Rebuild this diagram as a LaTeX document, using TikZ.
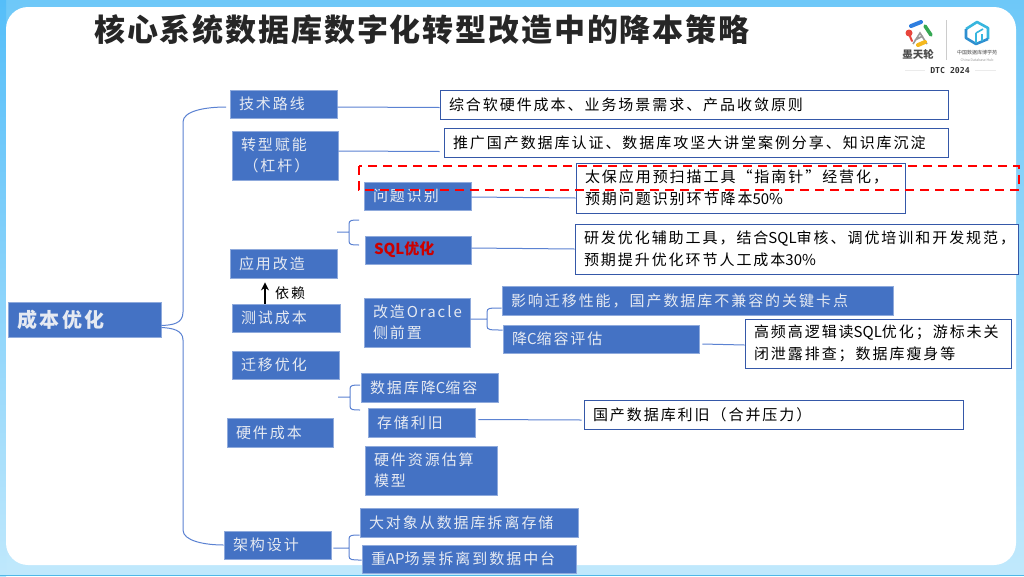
\documentclass[tikz,border=0pt]{standalone}
\usepackage{fontspec}
\setmainfont[LetterSpace=13]{Noto Sans CJK SC}
\newfontfamily\tightfont{Noto Sans CJK SC}
\newfontfamily\titlefont[LetterSpace=6]{Noto Sans CJK SC}
\newfontfamily\logofont{DejaVu Sans Mono}
\usepackage{xcolor}
\usepackage{tikz}
\usetikzlibrary{arrows.meta,calc}
\definecolor{boxblue}{HTML}{4472C4}
\definecolor{boxedge}{HTML}{8FAADC}
\definecolor{linkblue}{HTML}{5B82D2}
\definecolor{noteedge}{HTML}{3558A8}
\definecolor{paletext}{HTML}{E6EAF2}
\definecolor{frametop}{HTML}{6EC8F8}
\definecolor{framelow}{HTML}{BFE8FC}
\definecolor{frameside}{HTML}{55BEF9}
\definecolor{frameline}{HTML}{4FB8E8}
\definecolor{titleink}{HTML}{262626}
\definecolor{logoblue}{HTML}{2F7FE0}
\definecolor{logored}{HTML}{E8453C}
\definecolor{logogreen}{HTML}{34A853}
\definecolor{logoyellow}{HTML}{F5B81E}
\definecolor{cubecyan}{HTML}{38B6DE}
\definecolor{cubeblue}{HTML}{2E8FD0}

\begin{document}
\begin{tikzpicture}[
  x=1pt, y=-1pt,
  >={Stealth[length=8pt,width=8pt]},
  every node/.style={font=\fontsize{15}{21.5}\selectfont},
  wd/.style={text width=#1pt-18pt},
  bluebox/.style={fill=boxblue, draw=boxedge, line width=0.8pt, text=paletext, inner xsep=9pt, inner ysep=0pt, align=left, minimum height=28pt, wd=107},
  notebox/.style={fill=white, draw=noteedge, line width=1pt, text=black, inner xsep=9pt, inner ysep=0pt, align=left, minimum height=29pt},
  link/.style={draw=linkblue, line width=1pt},
]
  % frame
  \path[use as bounding box] (0,0) rectangle (1024,576);
  \shade[top color=frametop, bottom color=framelow] (0,0) rectangle (1024,566);
  \fill[framelow] (0,566) rectangle (1024,576);
  \shade[top color=frameside, bottom color=framelow] (0,0) rectangle (6,576);
  \draw[frameline, line width=1pt] (0,575.5) -- (1024,575.5);
  \fill[white, rounded corners=22pt] (6,7) rectangle (1016,565);

  \node[font=\titlefont\fontsize{31}{34}\selectfont\bfseries, text=titleink, anchor=west, inner sep=0pt] (title) at (94,30) {核心系统数据库数字化转型改造中的降本策略};

  % logo
  \node[inner sep=0pt, font=\tightfont\fontsize{10.5}{12}\selectfont\bfseries, text=black!70] (brand) at (918,54.5) {墨天轮};
  \node[inner sep=0pt, font=\logofont\fontsize{8.2}{9}\selectfont\bfseries, text=black!80] (dtc) at (950,70.5) {DTC 2024};
  \draw[black!20, line width=0.6pt] (946.5,20) -- (946.5,60);
  \draw[black!8] (905,70.5) -- (925,70.5) (975,70.5) -- (996,70.5);
  \draw[black!40, line width=1.6pt] (913,44) -- (920,33) -- (927,44) (915,40) -- (923,36);
  \draw[logoblue, line width=4pt, line cap=round] (911,26) -- (921,22);
  \draw[logored, line width=2pt, line cap=round] (909,34) -- (912,41);
  \fill[logored] (909,33) circle (3.5pt);
  \draw[logogreen, line width=3.5pt, line cap=round] (925,26) -- (931,35);
  \draw[logoyellow, line width=4pt, line cap=round] (918,45) -- (925,42);
  \draw[cubecyan, line width=2.6pt, line join=round] (966,29) -- (977,22) -- (988,28) -- (988,39);
  \draw[cubeblue, line width=2.6pt, line join=round] (966,29) -- (966,38) -- (976,44) -- (988,39);
  \draw[cubecyan, line width=1.6pt] (976,33) -- (976,43) (976,33) -- (983,29) (982,34) -- (982,41);
  \node[inner sep=0pt, font=\tightfont\fontsize{5}{6}\selectfont, text=black!70] (org) at (977,53) {中国数据库博学苑};
  \node[inner sep=0pt, font=\tightfont\fontsize{3.5}{4}\selectfont, text=black!40] (orgen) at (977,60) {China Database Hub};

  % tree
  \node[bluebox, wd=153, minimum height=35pt, font=\fontsize{20}{22}\selectfont\bfseries] (root) at (84.5,319.5) {成本优化};
  \node[bluebox] (tech) at (283.5,104) {技术路线};
  \node[bluebox, wd=106, minimum height=49pt] (enable) at (285,155.5) {转型赋能\\\,（杠杆）};
  \node[bluebox] (issue) at (417.5,196) {问题识别};
  \node[bluebox, wd=106] (sql) at (418,250) {\textcolor{red!80!black}{\tightfont\bfseries SQL优化}};
  \node[bluebox, minimum height=29pt] (appmod) at (283.5,263.5) {应用改造};
  \node[bluebox, wd=108] (testcost) at (286,318) {测试成本};
  \node[bluebox, wd=106, minimum height=49pt] (oracle) at (417,322.5) {改造Oracle\\侧前置};
  \node[bluebox, wd=391, minimum height=29pt] (impact) at (697.5,300.5) {影响迁移性能，国产数据库不兼容的关键卡点};
  \node[bluebox, wd=196] (downc) at (601,339) {降{\tightfont C}缩容评估};
  \node[bluebox] (migrate) at (285.5,365) {迁移优化};
  \node[bluebox, wd=137, minimum height=29pt] (dbdown) at (429.5,387.5) {数据库降{\tightfont C}缩容};
  \node[bluebox, minimum height=29pt] (storage) at (421.5,422.5) {存储利旧};
  \node[bluebox, wd=106, minimum height=29pt] (hw) at (280,432.5) {硬件成本};
  \node[bluebox, wd=132, minimum height=49pt] (model) at (431,470.5) {硬件资源估算\\模型};
  \node[bluebox, wd=218, minimum height=29pt] (blob) at (469,522.5) {大对象从数据库拆离存储};
  \node[bluebox, wd=214] (heavyap) at (469,559) {重{\tightfont AP}场景拆离到数据中台};
  \node[bluebox] (arch) at (277.5,545) {架构设计};

  \node[notebox, wd=508] (mix) at (694,104.5) {综合软硬件成本、业务场景需求、产品收敛原则};
  \node[notebox, wd=504] (promo) at (696,142.5) {推广国产数据库认证、数据库攻坚大讲堂案例分享、知识库沉淀};
  \node[notebox, wd=329, minimum height=50pt] (scan) at (740.5,188) {太保应用预扫描工具“指南针”经营化，\\预期问题识别环节降本{\tightfont 50\%}};
  \node[notebox, wd=443, minimum height=50pt] (assist) at (796.5,249) {研发优化辅助工具，结合{\tightfont SQL}审核、调优培训和开发规范，\\预期提升优化环节人工成本{\tightfont 30\%}};
  \node[notebox, wd=266, minimum height=49pt] (highfreq) at (878,343.5) {高频高逻辑读{\tightfont SQL}优化；游标未关\\闭泄露排查；数据库瘦身等};
  \node[notebox, wd=379] (reuse) at (773.5,414.5) {国产数据库利旧（合并压力）};

  \node[anchor=west, inner sep=0pt, font=\fontsize{14}{15}\selectfont, text=black] (dep) at (275,293) {依赖};

  % free ends of the brackets
  \coordinate (sqlin) at (337,232);
  \coordinate (sqlup) at (359,220);
  \coordinate (sqldn) at (359,245);
  \coordinate (hwin) at (338,397);
  \coordinate (hwup) at (360,385);
  \coordinate (hwdn) at (360,410);
  \coordinate (rootup) at (226,107);

  \draw[link] (root.east) ++(0,6) .. controls (172,325) and (183,324) .. (183,312) -- (183,122) .. controls (183,111) and (205,107) .. (rootup);
  \draw[link] (root.east) ++(0,8) .. controls (172,328) and (183,330) .. (183,340) -- (183,530) .. controls (183,541) and (205,545) .. (arch.west);
  \draw[link] ($(tech.east)+(0,3)$) -- ($(mix.west)+(0,3)$);
  \draw[link] ($(enable.east)+(0,-4.5)$) -- ($(promo.west)+(-4,9)$);
  \draw[link] ($(issue.east)+(0,1)$) -- ($(scan.west)+(0,10)$);
  \draw[link] ($(sql.east)+(0,-2)$) -- (assist.west);
  \draw[link] ($(downc.east)+(3,5)$) -- ($(highfreq.west)+(0,1.5)$);
  \draw[link] ($(storage.east)+(3,-3)$) -- ($(reuse.west)+(-2,5.5)$);

  \draw[link] (sqlin) -- (349,232) (sqlup) .. controls (352,220) and (349,220) .. (349,224) -- (349,241) .. controls (349,245) and (352,245) .. (sqldn);
  \draw[link] ($(oracle.east)+(0,-3.5)$) -- (487,319) (impact.west |- 0,308) -- (498,308) .. controls (490,308) and (487,308) .. (487,312) -- (487,326) .. controls (487,330) and (490,330) .. (downc.west |- 0,330);
  \draw[link] (hwin) -- (350,397) (hwup) .. controls (353,385) and (350,385) .. (350,389) -- (350,406) .. controls (350,410) and (353,410) .. (hwdn);
  \draw[link] ($(arch.east)+(2,3)$) -- (349,548) (blob.west |- 0,535) .. controls (352,535) and (349,535) .. (349,539) -- (349,556) .. controls (349,560) and (352,560) .. (heavyap.west |- 0,560);

  \draw[->, black, line width=1.4pt] (testcost.north -| 265,0) -- ($(appmod.south -| 265,0)+(0,4)$);
  % highlight
  \draw[red, line width=2pt, dash pattern=on 9pt off 6pt] (359,166) rectangle (1019,190);
\end{tikzpicture}
\end{document}
